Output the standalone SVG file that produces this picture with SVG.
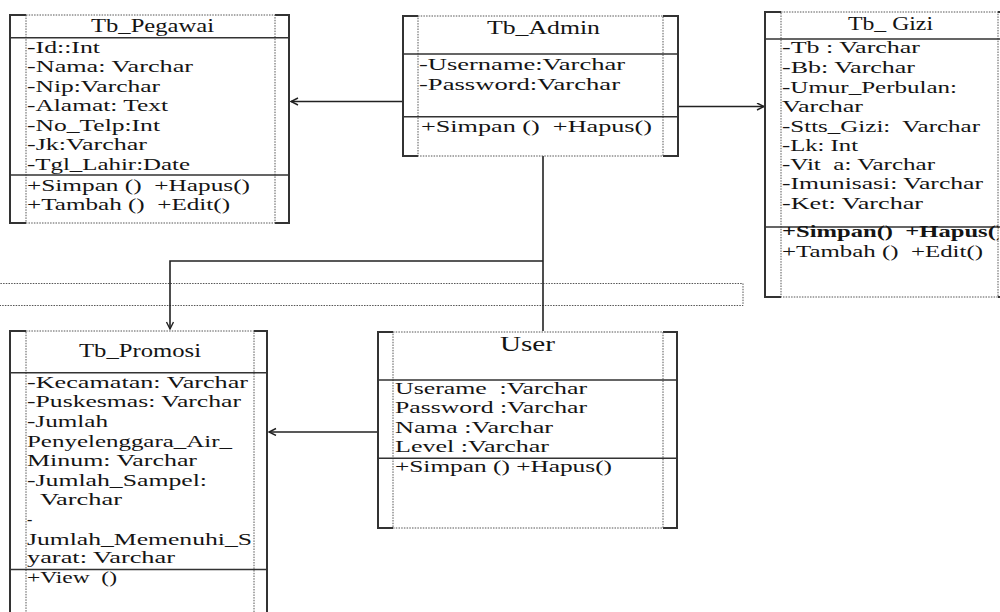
<svg xmlns="http://www.w3.org/2000/svg" width="1000" height="612" viewBox="0 0 1000 612">
<style>
.t{font-family:"Liberation Serif","Times New Roman",serif;font-size:16px;fill:#141414}
.h{font-size:18px}
.u{font-size:22px}
.b{font-weight:bold}
.solid{stroke:#333;stroke-width:2;fill:none}
.div{stroke:#333;stroke-width:1.6;fill:none}
.dot{stroke:#555;stroke-width:1;stroke-dasharray:1.5 1.2;fill:none}
.conn{stroke:#222;stroke-width:1.6;fill:none}
</style>
<defs>
<marker id="arr" markerWidth="10" markerHeight="10" refX="8" refY="4" orient="auto" markerUnits="userSpaceOnUse">
<path d="M1,0.5 L8,4 L1,7.5" fill="none" stroke="#222" stroke-width="1.4"/>
</marker>
<clipPath id="giziClip"><rect x="760" y="0" width="238.5" height="300"/></clipPath>
</defs>
<rect width="1000" height="612" fill="#fff"/>

<g id="band">
<rect class="dot" x="-5" y="283.5" width="748" height="22"/>
</g>

<g id="connectors">
<line class="conn" x1="403" y1="101.5" x2="291" y2="101.5" marker-end="url(#arr)"/>
<line class="conn" x1="678" y1="106.5" x2="764" y2="106.5" marker-end="url(#arr)"/>
<line class="conn" x1="543" y1="156" x2="543" y2="331"/>
<polyline class="conn" points="543,261 170,261 170,329" marker-end="url(#arr)"/>
<line class="conn" x1="378" y1="432" x2="269" y2="432" marker-end="url(#arr)"/>
</g>

<g id="tb_pegawai">
<path class="solid" d="M26,15 H10 V223 H26 M275,15 H289 V223 H275"/>
<rect class="dot" x="26" y="15" width="249" height="208"/>
<path class="div" d="M10,37.7 H289 M10,175 H289"/>
<text class="t h" x="91" y="32" textLength="123" lengthAdjust="spacingAndGlyphs">Tb_Pegawai</text>
<text class="t" x="27" y="52.7" textLength="73" lengthAdjust="spacingAndGlyphs">-Id::Int</text>
<text class="t" x="27" y="72.3" textLength="166" lengthAdjust="spacingAndGlyphs">-Nama: Varchar</text>
<text class="t" x="27" y="91.8" textLength="133" lengthAdjust="spacingAndGlyphs">-Nip:Varchar</text>
<text class="t" x="27" y="111.2" textLength="141" lengthAdjust="spacingAndGlyphs">-Alamat: Text</text>
<text class="t" x="27" y="130.7" textLength="133" lengthAdjust="spacingAndGlyphs">-No_Telp:Int</text>
<text class="t" x="27" y="150.2" textLength="120" lengthAdjust="spacingAndGlyphs">-Jk:Varchar</text>
<text class="t" x="27" y="169.8" textLength="163" lengthAdjust="spacingAndGlyphs">-Tgl_Lahir:Date</text>
<text class="t" x="27" y="190.5" textLength="223" lengthAdjust="spacingAndGlyphs" xml:space="preserve">+Simpan ()  +Hapus()</text>
<text class="t" x="27" y="210" textLength="203" lengthAdjust="spacingAndGlyphs" xml:space="preserve">+Tambah ()  +Edit()</text>
</g>

<g id="tb_admin">
<path class="solid" d="M418,16 H403 V156 H418 M663,16 H678 V156 H663"/>
<rect class="dot" x="418" y="16" width="245" height="140"/>
<path class="div" d="M403,54 H678 M403,116.7 H678"/>
<text class="t h" x="487" y="33.5" textLength="113" lengthAdjust="spacingAndGlyphs">Tb_Admin</text>
<text class="t" x="419" y="70" textLength="206" lengthAdjust="spacingAndGlyphs">-Username:Varchar</text>
<text class="t" x="419" y="89.5" textLength="201" lengthAdjust="spacingAndGlyphs">-Password:Varchar</text>
<text class="t" x="421" y="131.7" textLength="231" lengthAdjust="spacingAndGlyphs" xml:space="preserve">+Simpan ()  +Hapus()</text>
</g>

<g id="tb_gizi">
<path class="solid" d="M781,12 H765 V297 H781 M998,12 H1012 V297 H998"/>
<rect class="dot" x="781" y="12" width="217" height="285"/>
<path class="div" d="M765,39 H1012 M765,227 H1012"/>
<text class="t h" x="848" y="30" textLength="85" lengthAdjust="spacingAndGlyphs">Tb_ Gizi</text>
<text class="t" x="782" y="53.3" textLength="138" lengthAdjust="spacingAndGlyphs">-Tb : Varchar</text>
<text class="t" x="782" y="73.3" textLength="133" lengthAdjust="spacingAndGlyphs">-Bb: Varchar</text>
<text class="t" x="782" y="92.7" textLength="175" lengthAdjust="spacingAndGlyphs">-Umur_Perbulan:</text>
<text class="t" x="782" y="111.7" textLength="81" lengthAdjust="spacingAndGlyphs">Varchar</text>
<text class="t" x="782" y="131.7" textLength="198" lengthAdjust="spacingAndGlyphs" xml:space="preserve">-Stts_Gizi:  Varchar</text>
<text class="t" x="782" y="151" textLength="76" lengthAdjust="spacingAndGlyphs">-Lk: Int</text>
<text class="t" x="782" y="170" textLength="153" lengthAdjust="spacingAndGlyphs" xml:space="preserve">-Vit  a: Varchar</text>
<text class="t" x="782" y="189.3" textLength="201" lengthAdjust="spacingAndGlyphs">-Imunisasi: Varchar</text>
<text class="t" x="782" y="209.3" textLength="141" lengthAdjust="spacingAndGlyphs">-Ket: Varchar</text>
<text class="t b" x="782" y="237.3" textLength="222" lengthAdjust="spacingAndGlyphs" clip-path="url(#giziClip)" xml:space="preserve">+Simpan()  +Hapus()</text>
<text class="t" x="782" y="256.7" textLength="201" lengthAdjust="spacingAndGlyphs" xml:space="preserve">+Tambah ()  +Edit()</text>
</g>

<g id="tb_promosi">
<path class="solid" d="M26,331 H10 V640 M254,331 H267 V640"/>
<rect class="dot" x="26" y="331" width="228" height="320"/>
<path class="div" d="M10,372.7 H267 M10,569.5 H267"/>
<text class="t h" x="79" y="356.7" textLength="122" lengthAdjust="spacingAndGlyphs">Tb_Promosi</text>
<text class="t" x="27" y="388" textLength="221" lengthAdjust="spacingAndGlyphs">-Kecamatan: Varchar</text>
<text class="t" x="27" y="407.3" textLength="214" lengthAdjust="spacingAndGlyphs">-Puskesmas: Varchar</text>
<text class="t" x="27" y="426.7" textLength="81" lengthAdjust="spacingAndGlyphs">-Jumlah</text>
<text class="t" x="27" y="446.5" textLength="205" lengthAdjust="spacingAndGlyphs">Penyelenggara_Air_</text>
<text class="t" x="27" y="466" textLength="170" lengthAdjust="spacingAndGlyphs">Minum: Varchar</text>
<text class="t" x="27" y="486" textLength="180" lengthAdjust="spacingAndGlyphs">-Jumlah_Sampel:</text>
<text class="t" x="40" y="505" textLength="82" lengthAdjust="spacingAndGlyphs">Varchar</text>
<text class="t" x="27" y="524.5">-</text>
<text class="t" x="27" y="545" textLength="225" lengthAdjust="spacingAndGlyphs">Jumlah_Memenuhi_S</text>
<text class="t" x="27" y="563.3" textLength="148" lengthAdjust="spacingAndGlyphs">yarat: Varchar</text>
<text class="t" x="27" y="583.3" textLength="90" lengthAdjust="spacingAndGlyphs" xml:space="preserve">+View  ()</text>
</g>

<g id="user">
<path class="solid" d="M393,332 H378 V528 H393 M663,332 H677 V528 H663"/>
<rect class="dot" x="393" y="332" width="270" height="196"/>
<path class="div" d="M378,380 H677 M378,458.3 H677"/>
<text class="t u" x="500" y="350.7" textLength="55" lengthAdjust="spacingAndGlyphs">User</text>
<text class="t" x="395" y="394" textLength="192" lengthAdjust="spacingAndGlyphs" xml:space="preserve">Userame  :Varchar</text>
<text class="t" x="395" y="413.3" textLength="192" lengthAdjust="spacingAndGlyphs">Password :Varchar</text>
<text class="t" x="395" y="432.7" textLength="158" lengthAdjust="spacingAndGlyphs">Nama :Varchar</text>
<text class="t" x="395" y="452" textLength="154" lengthAdjust="spacingAndGlyphs">Level :Varchar</text>
<text class="t" x="395" y="472" textLength="217" lengthAdjust="spacingAndGlyphs">+Simpan () +Hapus()</text>
</g>
</svg>
